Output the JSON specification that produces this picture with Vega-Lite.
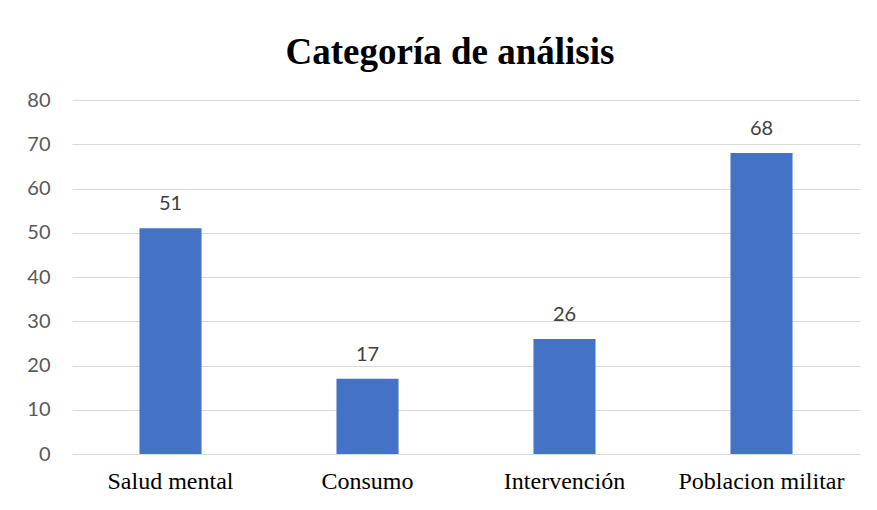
{
  "$schema": "https://vega.github.io/schema/vega-lite/v6.json",
  "width": 788,
  "height": 354,
  "autosize": {"type": "none"},
  "padding": {"left": 72, "top": 100, "right": 17, "bottom": 56},
  "background": "white",
  "title": {
    "text": "Categoría de análisis",
    "font": "Liberation Serif",
    "fontSize": 37,
    "fontWeight": "bold",
    "color": "#000000",
    "anchor": "middle",
    "baseline": "bottom",
    "offset": 30,
    "dx": -16,
    "dy": 49
  },
  "data": {
    "values": [
      {"categoria": "Salud mental", "valor": 51},
      {"categoria": "Consumo", "valor": 17},
      {"categoria": "Intervención", "valor": 26},
      {"categoria": "Poblacion militar", "valor": 68}
    ]
  },
  "encoding": {
    "x": {
      "field": "categoria",
      "type": "nominal",
      "sort": null,
      "scale": {"paddingInner": 0.685, "paddingOuter": 0.3425},
      "axis": {
        "title": null,
        "labelAngle": 0,
        "labelFont": "Liberation Serif",
        "labelFontSize": 24,
        "labelColor": "#000000",
        "labelPadding": 15,
        "ticks": false,
        "domain": false,
        "grid": false
      }
    },
    "y": {
      "field": "valor",
      "type": "quantitative",
      "scale": {"domain": [0, 80]},
      "axis": {
        "title": null,
        "values": [0, 10, 20, 30, 40, 50, 60, 70, 80],
        "labelFont": "Lato",
        "labelFontSize": 20,
        "labelColor": "#595959",
        "labelPadding": 22,
        "ticks": false,
        "domain": false,
        "gridColor": "#d9d9d9",
        "gridWidth": 1
      }
    }
  },
  "layer": [
    {"mark": {"type": "bar", "color": "#4472c4"}},
    {
      "mark": {"type": "text", "font": "Lato", "fontSize": 20, "color": "#404040", "baseline": "alphabetic", "dy": -18},
      "encoding": {"text": {"field": "valor", "type": "quantitative"}}
    }
  ],
  "config": {"view": {"stroke": null}}
}
